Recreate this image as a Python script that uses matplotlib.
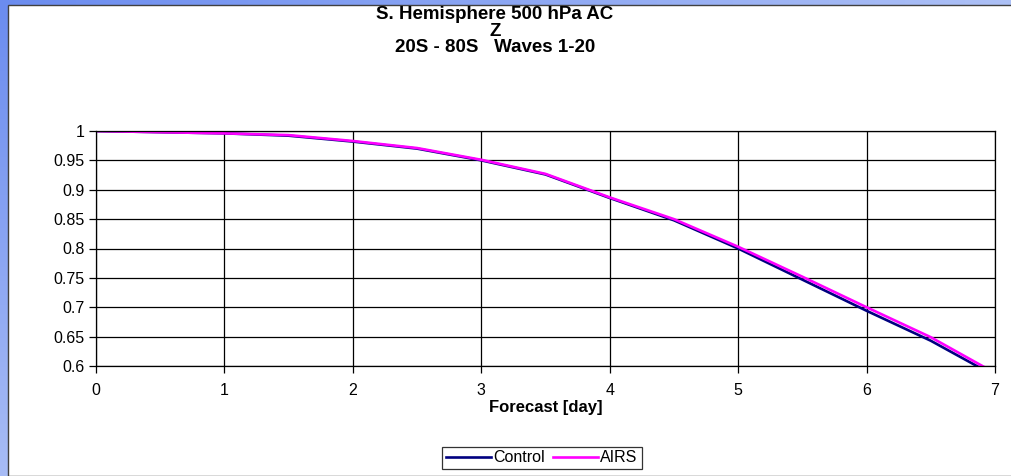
import numpy as np
import matplotlib
matplotlib.use("Agg")
import matplotlib.pyplot as plt
from matplotlib.patches import Rectangle

plt.rcParams['font.family'] = ['Liberation Sans', 'DejaVu Sans']

days = [0, 0.5, 1, 1.5, 2, 2.5, 3, 3.5, 4, 4.5, 5, 5.5, 6, 6.5, 7]
control = [1.0, 0.998, 0.996, 0.992, 0.982, 0.970, 0.950, 0.926, 0.886, 0.848,
           0.800, 0.747, 0.694, 0.643, 0.583]
airs = [1.0, 0.998, 0.996, 0.993, 0.983, 0.971, 0.951, 0.927, 0.887, 0.850,
        0.803, 0.752, 0.700, 0.649, 0.588]
title_lines = ['S. Hemisphere 500 hPa AC', 'Z', '20S - 80S   Waves 1-20']

W, H = 1011, 476
fig = plt.figure(figsize=(W / 100, H / 100), dpi=100)

# blue gradient backdrop, like the slide behind the chart
bg = fig.add_axes([0, 0, 1, 1])
bg.set_axis_off()
gx, gy = np.meshgrid(np.linspace(0, 1, 200), np.linspace(0, 1, 100))
t = np.clip(0.55 * gy + 0.6 * gx, 0, 1)
c0 = np.array([0.42, 0.55, 0.94])
c1 = np.array([0.85, 0.89, 0.98])
img = c0 * (1 - t[..., None]) + c1 * t[..., None]
bg.imshow(img, extent=[0, 1, 0, 1], aspect='auto', origin='upper')
bg.add_patch(Rectangle((8 / W, 0), 1, 1 - 5 / H, facecolor='white',
                       edgecolor='#404040', linewidth=1.0))
bg.set_xlim(0, 1)
bg.set_ylim(0, 1)

ax = fig.add_axes([96 / W, 110 / H, 899 / W, 235 / H])
ax.plot(days, control, color='#000080', linewidth=1.9, label='Control')
ax.plot(days, airs, color='#FF00FF', linewidth=1.9, label='AIRS')

ax.set_xlim(0, 7)
ax.set_ylim(0.6, 1.0)
ax.set_xticks(range(0, 8))
ax.set_yticks([0.6, 0.65, 0.7, 0.75, 0.8, 0.85, 0.9, 0.95, 1.0])
ax.set_yticklabels(['0.6', '0.65', '0.7', '0.75', '0.8', '0.85', '0.9', '0.95', '1'])
ax.grid(True, color='black', linewidth=0.9)
ax.set_axisbelow(True)
ax.tick_params(axis='both', labelsize=11.5, direction='out', length=5,
               color='black', width=0.9, pad=3)
ax.tick_params(axis='x', pad=7)
for s in ax.spines.values():
    s.set_color('black')
    s.set_linewidth(0.9)

ax.set_xlabel('Forecast [day]', fontsize=12, fontweight='bold', labelpad=2)

for txt, yb in zip(title_lines, [19, 35.5, 52]):
    fig.text(495 / W, 1 - yb / H, txt, ha='center', va='baseline',
             fontsize=13.5, fontweight='bold')

leg = ax.legend(loc='center', bbox_to_anchor=(542 / W, 1 - 458 / H),
                bbox_transform=fig.transFigure, ncol=2,
                frameon=True, fancybox=False, fontsize=11.5, handlelength=2.8,
                columnspacing=0.5, handletextpad=0.15, borderpad=0.25)
leg.get_frame().set_edgecolor('black')
leg.get_frame().set_linewidth(0.9)

fig.savefig('out.png', dpi=100)
